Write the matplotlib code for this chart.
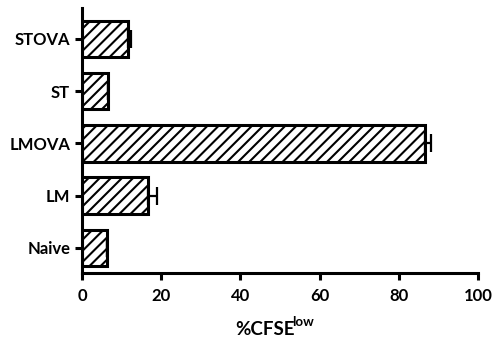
import matplotlib
matplotlib.use("Agg")
import matplotlib.pyplot as plt

categories = ["Naive", "LM", "LMOVA", "ST", "STOVA"]
values = [6.2, 16.6, 86.6, 6.6, 11.7]
errors = [0.0, 2.4, 1.5, 0.0, 0.7]
xticks = [0, 20, 40, 60, 80, 100]

plt.rcParams['font.family'] = ['Lato', 'DejaVu Sans']
plt.rcParams['font.weight'] = 'bold'
plt.rcParams['hatch.linewidth'] = 1.5

fig = plt.figure(figsize=(4.96, 3.47), dpi=100)
ax = fig.add_axes([0.1653, 0.2133, 0.7984, 0.7637])

pos = list(range(len(categories)))
ax.barh(pos, values, height=0.7, color="white", edgecolor="black",
        linewidth=2.2, hatch="///", zorder=2)
ax.errorbar(values, pos, xerr=[[0] * len(errors), errors], fmt="none",
            ecolor="black", elinewidth=1.6, capsize=6.5, capthick=1.6, zorder=3)

ax.set_xlim(0, 100)
ax.set_ylim(-0.48, 4.59)
ax.set_xticks(xticks)
ax.set_yticks(pos)
ax.set_yticklabels(categories)

# x label with a superscript placed next to the main label text
xl = fig.text(0.534, 0.035, "%CFSE", fontsize=13.5, fontweight="bold",
              ha="center", va="baseline")
ax.annotate("low", xy=(1.0, 1.0), xycoords=xl, xytext=(-1.5, -5),
            textcoords="offset points", fontsize=9.5, fontweight="bold",
            ha="left", va="bottom")

for s in ["top", "right"]:
    ax.spines[s].set_visible(False)
for s in ["left", "bottom"]:
    ax.spines[s].set_linewidth(2.2)
ax.tick_params(width=2.2, length=5, labelsize=12)
ax.tick_params(axis="x", pad=6)
for lbl in ax.get_xticklabels() + ax.get_yticklabels():
    lbl.set_fontweight("bold")

fig.savefig("out.png", dpi=100)
